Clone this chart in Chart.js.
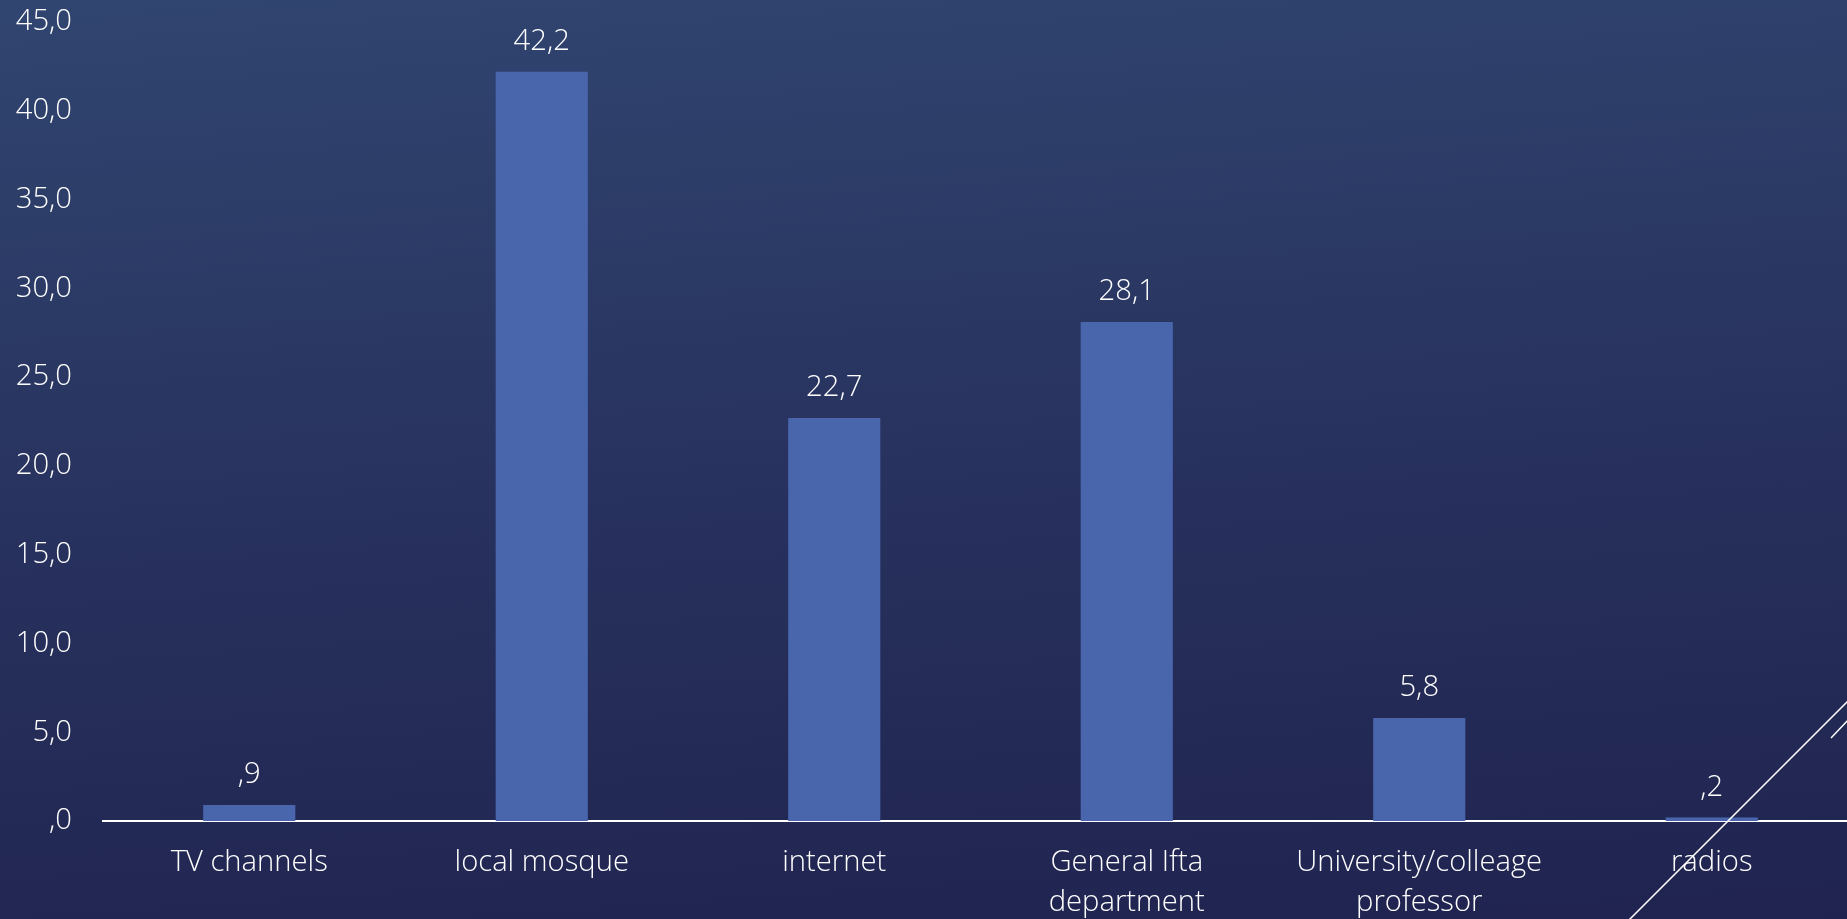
<!DOCTYPE html>
<html>
<head>
<meta charset="utf-8">
<script src="https://cdn.jsdelivr.net/npm/chart.js@4"></script>
<style>
    html, body {
        margin: 0;
        padding: 0;
        width: 1847px;
        height: 919px;
        overflow: hidden;
        background: linear-gradient(176deg, #304570 0%, #28325e 50%, #20234f 100%);
    }
    #wrap {
        position: relative;
        width: 1858px;
        height: 919px;
    }
</style>
</head>
<body>
<div id="wrap"><canvas id="chart"></canvas></div>
<script>
// Catégories et valeurs (%)
const categories = [
    'TV channels',
    'local mosque',
    'internet',
    ['General Ifta', 'department'],
    ['University/colleage', 'professor'],
    'radios'
];
const values = [0.9, 42.2, 22.7, 28.1, 5.8, 0.2];
const yTicks = [0, 5, 10, 15, 20, 25, 30, 35, 40, 45];

const FAMILY = '"Open Sans", "DejaVu Sans", sans-serif';
const SIZE = 29.2;

// format à la SPSS : virgule décimale, sans zéro initial
function fmt(v) {
    return v.toFixed(1).replace('.', ',').replace(/^0,/, ',');
}

// étiquettes de valeur au-dessus des barres
const valueLabels = {
    id: 'valueLabels',
    afterDatasetsDraw(chart) {
        const ctx = chart.ctx;
        const meta = chart.getDatasetMeta(0);
        ctx.save();
        ctx.font = `300 ${SIZE}px ${FAMILY}`;
        ctx.fillStyle = '#ffffff';
        ctx.textAlign = 'center';
        ctx.textBaseline = 'middle';
        meta.data.forEach((bar, i) => {
            ctx.fillText(fmt(values[i]), bar.x, bar.y - 30);
        });
        ctx.restore();
    }
};

// lignes décoratives du thème (coin inférieur droit)
const decoLines = {
    id: 'decoLines',
    afterDraw(chart) {
        const ctx = chart.ctx;
        ctx.save();
        ctx.strokeStyle = '#ffffff';
        ctx.lineWidth = 1.5;
        ctx.beginPath();
        ctx.moveTo(1629, 920);
        ctx.lineTo(1850, 699);
        ctx.moveTo(1831, 738);
        ctx.lineTo(1850, 718);
        ctx.stroke();
        ctx.restore();
    }
};

new Chart(document.getElementById('chart'), {
    type: 'bar',
    data: {
        labels: categories,
        datasets: [{
            data: values,
            backgroundColor: '#4966ad',
            borderWidth: 0,
            categoryPercentage: 1,
            barPercentage: 0.315
        }]
    },
    options: {
        responsive: true,
        maintainAspectRatio: false,
        animation: false,
        layout: { padding: { top: 22, right: 0, bottom: 0, left: 0 } },
        plugins: {
            legend: { display: false },
            tooltip: { enabled: false }
        },
        scales: {
            x: {
                afterFit(scale) {
                    scale.height = 98;
                },
                grid: { display: false, drawTicks: false },
                border: { display: true, color: '#ffffff', width: 2 },
                ticks: {
                    color: '#ffffff',
                    font: { family: FAMILY, size: SIZE, weight: 300, lineHeight: 1.37 },
                    padding: 22,
                    maxRotation: 0,
                    autoSkip: false
                }
            },
            y: {
                min: 0,
                max: 45,
                afterBuildTicks(scale) {
                    scale.ticks = yTicks.map(v => ({ value: v }));
                },
                afterFit(scale) {
                    scale.width = 103;
                    scale.paddingTop = 0;
                    scale.paddingBottom = 0;
                },
                grid: { display: false, drawTicks: false },
                border: { display: false },
                ticks: {
                    color: '#ffffff',
                    font: { family: FAMILY, size: SIZE, weight: 300, lineHeight: 1 },
                    padding: 31,
                    callback: v => fmt(v)
                }
            }
        }
    },
    plugins: [valueLabels, decoLines]
});
</script>
</body>
</html>
